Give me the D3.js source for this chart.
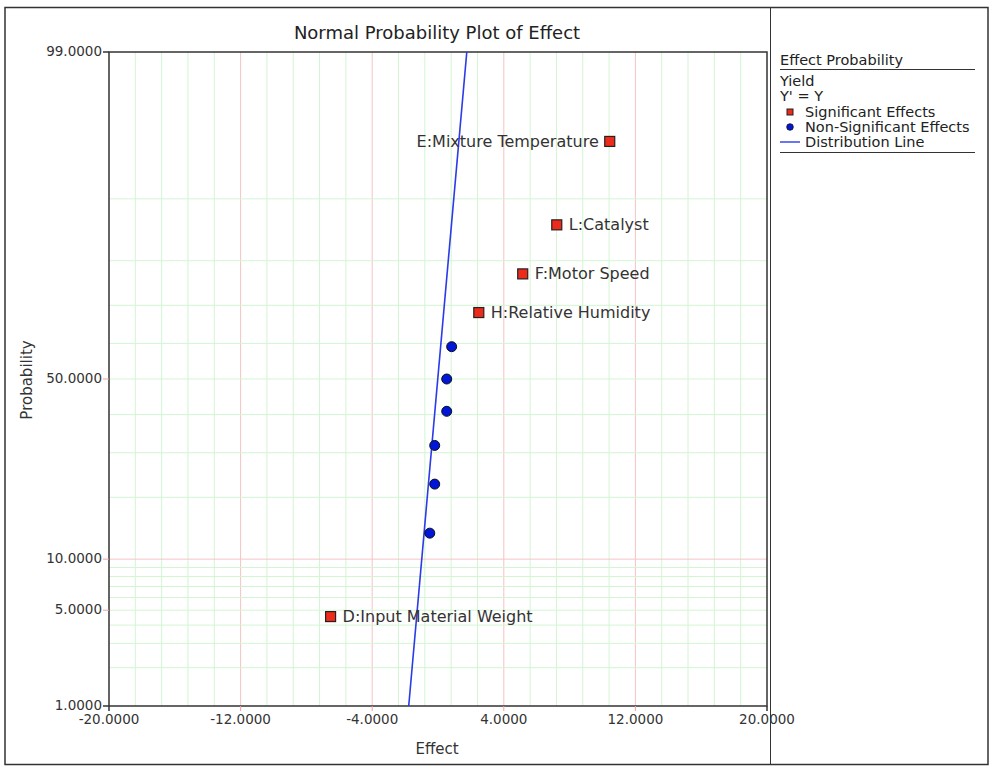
<!DOCTYPE html>
<html><head><meta charset="utf-8">
<script src="https://cdn.jsdelivr.net/npm/d3@7"></script>
<style>body{margin:0;background:#fff}svg text{font-family:"DejaVu Sans",Verdana,sans-serif}</style>
</head><body>
<svg id="c" width="1000" height="772"></svg>
<script>
// ---- data ----
const sigNames = ["D:Input Material Weight","H:Relative Humidity","F:Motor Speed","L:Catalyst","E:Mixture Temperature"];
const sigEffects = [-6.53, 2.48, 5.15, 7.22, 10.44];
const sigProbs = [4.55, 68.18, 77.27, 86.36, 95.45];
const nonSigEffects = [-0.50, -0.20, -0.20, 0.53, 0.53, 0.83];
const nonSigProbs = [13.64, 22.73, 31.82, 40.91, 50.00, 59.09];
const lineEffects = [-1.78, 1.75];
const lineProbs = [1, 99];
const xTicks = [-20, -12, -4, 4, 12, 20];
const yTickLabels = [1, 5, 10, 50, 99];
const yGrid = [2,3,4,5,6,7,8,9,20,30,40,50,60,70,80,90];

// inverse normal CDF (Acklam)
function qnorm(p){
  const a=[-3.969683028665376e+01,2.209460984245205e+02,-2.759285104469687e+02,1.383577518672690e+02,-3.066479806614716e+01,2.506628277459239e+00];
  const b=[-5.447609879822406e+01,1.615858368580409e+02,-1.556989798598866e+02,6.680131188771972e+01,-1.328068155288572e+01];
  const c=[-7.784894002430293e-03,-3.223964580411365e-01,-2.400758277161838e+00,-2.549732539343734e+00,4.374664141464968e+00,2.938163982698783e+00];
  const d=[7.784695709041462e-03,3.224671290700398e-01,2.445134137142996e+00,3.754408661907416e+00];
  const pl=0.02425;let q,r;
  if(p<pl){q=Math.sqrt(-2*Math.log(p));return (((((c[0]*q+c[1])*q+c[2])*q+c[3])*q+c[4])*q+c[5])/((((d[0]*q+d[1])*q+d[2])*q+d[3])*q+1);}
  if(p>1-pl){q=Math.sqrt(-2*Math.log(1-p));return -(((((c[0]*q+c[1])*q+c[2])*q+c[3])*q+c[4])*q+c[5])/((((d[0]*q+d[1])*q+d[2])*q+d[3])*q+1);}
  q=p-0.5;r=q*q;return (((((a[0]*r+a[1])*r+a[2])*r+a[3])*r+a[4])*r+a[5])*q/(((((b[0]*r+b[1])*r+b[2])*r+b[3])*r+b[4])*r+1);
}

const svg = d3.select("#c");
const L=109, R=767, T=52, B=706;
const x = d3.scaleLinear().domain([-20,20]).range([L,R]);
const zs = d3.scaleLinear().domain([qnorm(0.01), qnorm(0.99)]).range([B,T]);
const y = p => zs(qnorm(p/100));
const green="#d2f5d2", red="#f6c4c4", dark="#333";

// outer border & legend separator
svg.append("rect").attr("x",5).attr("y",7.5).attr("width",983).attr("height",757).attr("fill","none").attr("stroke",dark).attr("stroke-width",1.5);
svg.append("line").attr("x1",770.5).attr("x2",770.5).attr("y1",8).attr("y2",764).attr("stroke",dark).attr("stroke-width",1);

const g = svg.append("g");
// vertical grid
const vMinor = d3.range(0,26).map(i=>-20+i*1.6).filter(v=>v>-20&&v<20);
vMinor.forEach(v=>{
  const isMajor = xTicks.some(t=>Math.abs(t-v)<1e-6);
  g.append("line").attr("x1",x(v)).attr("x2",x(v)).attr("y1",T).attr("y2",B)
   .attr("stroke",isMajor?red:green).attr("stroke-width",1);
});
// horizontal grid
yGrid.forEach(p=>{
  g.append("line").attr("x1",L).attr("x2",R).attr("y1",y(p)).attr("y2",y(p)).attr("stroke",green);
});
g.append("line").attr("x1",L).attr("x2",R).attr("y1",y(10)).attr("y2",y(10)).attr("stroke",red);

// frame
g.append("rect").attr("x",L).attr("y",T).attr("width",R-L).attr("height",B-T).attr("fill","none").attr("stroke",dark).attr("stroke-width",1.5);

// y ticks and labels
yTickLabels.forEach(p=>{
  const end = (p===1||p===99);
  g.append("line").attr("x1",L-6).attr("x2",L).attr("y1",y(p)).attr("y2",y(p)).attr("stroke",end?dark:"#f0a0a0").attr("stroke-width",end?1.5:1);
  g.append("text").attr("x",L-7).attr("y",y(p)+4).attr("text-anchor","end").attr("font-size",13.5).attr("fill",dark).text(p.toFixed(4));
});
// x ticks and labels
xTicks.forEach(v=>{
  const end = (v===-20||v===20);
  g.append("line").attr("x1",x(v)).attr("x2",x(v)).attr("y1",B).attr("y2",B+5).attr("stroke",end?dark:"#f0a0a0").attr("stroke-width",end?1.5:1);
  g.append("text").attr("x",x(v)).attr("y",B+17.5).attr("text-anchor","middle").attr("font-size",13.5).attr("fill",dark).text(v.toFixed(4));
});

// title & axis labels
svg.append("text").attr("x",437).attr("y",39).attr("text-anchor","middle").attr("font-size",18).attr("fill","#222").text("Normal Probability Plot of Effect");
svg.append("text").attr("x",437).attr("y",754).attr("text-anchor","middle").attr("font-size",15).attr("fill",dark).text("Effect");
svg.append("text").attr("transform","translate(32,380) rotate(-90)").attr("text-anchor","middle").attr("font-size",15).attr("fill",dark).text("Probability");

// distribution line
const lineData = lineEffects.map((e,i)=>[e,lineProbs[i]]);
g.append("path").datum(lineData).attr("d",d3.line().x(d=>x(d[0])).y(d=>y(d[1])))
 .attr("stroke","#2a3be8").attr("stroke-width",1.6).attr("fill","none");

// non-significant points
nonSigEffects.forEach((e,i)=>{
  g.append("circle").attr("cx",x(e)).attr("cy",y(nonSigProbs[i])).attr("r",5).attr("fill","#0016d8").attr("stroke","#111").attr("stroke-width",1);
});
// significant points
sigEffects.forEach((e,i)=>{
  const cx=x(e), cy=y(sigProbs[i]);
  g.append("rect").attr("x",cx-5).attr("y",cy-5).attr("width",10).attr("height",10).attr("fill","#ee2a1a").attr("stroke","#222").attr("stroke-width",1.2);
  const left = sigNames[i].startsWith("E:");
  g.append("text").attr("x",left?cx-11:cx+12).attr("y",cy+5.5).attr("text-anchor",left?"end":"start")
   .attr("font-size",16).attr("fill",dark).text(sigNames[i]);
});

// legend
const lg = svg.append("g").attr("font-size",14.5).attr("fill","#222");
lg.append("text").attr("x",780).attr("y",65).text("Effect Probability");
lg.append("line").attr("x1",780).attr("x2",975).attr("y1",69.5).attr("y2",69.5).attr("stroke",dark).attr("stroke-width",1.2);
lg.append("text").attr("x",780).attr("y",86).text("Yield");
lg.append("text").attr("x",780).attr("y",101).text("Y' = Y");
lg.append("rect").attr("x",787).attr("y",109).attr("width",6).attr("height",6).attr("fill","#ee2a1a").attr("stroke","#222").attr("stroke-width",1);
lg.append("text").attr("x",805).attr("y",117).text("Significant Effects");
lg.append("circle").attr("cx",790).attr("cy",127).attr("r",3.3).attr("fill","#0016d8").attr("stroke","#111").attr("stroke-width",0.8);
lg.append("text").attr("x",805).attr("y",132).text("Non-Significant Effects");
lg.append("line").attr("x1",780).attr("x2",800).attr("y1",142).attr("y2",142).attr("stroke","#2a3be8").attr("stroke-width",1.4);
lg.append("text").attr("x",805).attr("y",147).text("Distribution Line");
lg.append("line").attr("x1",780).attr("x2",975).attr("y1",152.5).attr("y2",152.5).attr("stroke",dark).attr("stroke-width",1.2);
</script>
</body></html>
